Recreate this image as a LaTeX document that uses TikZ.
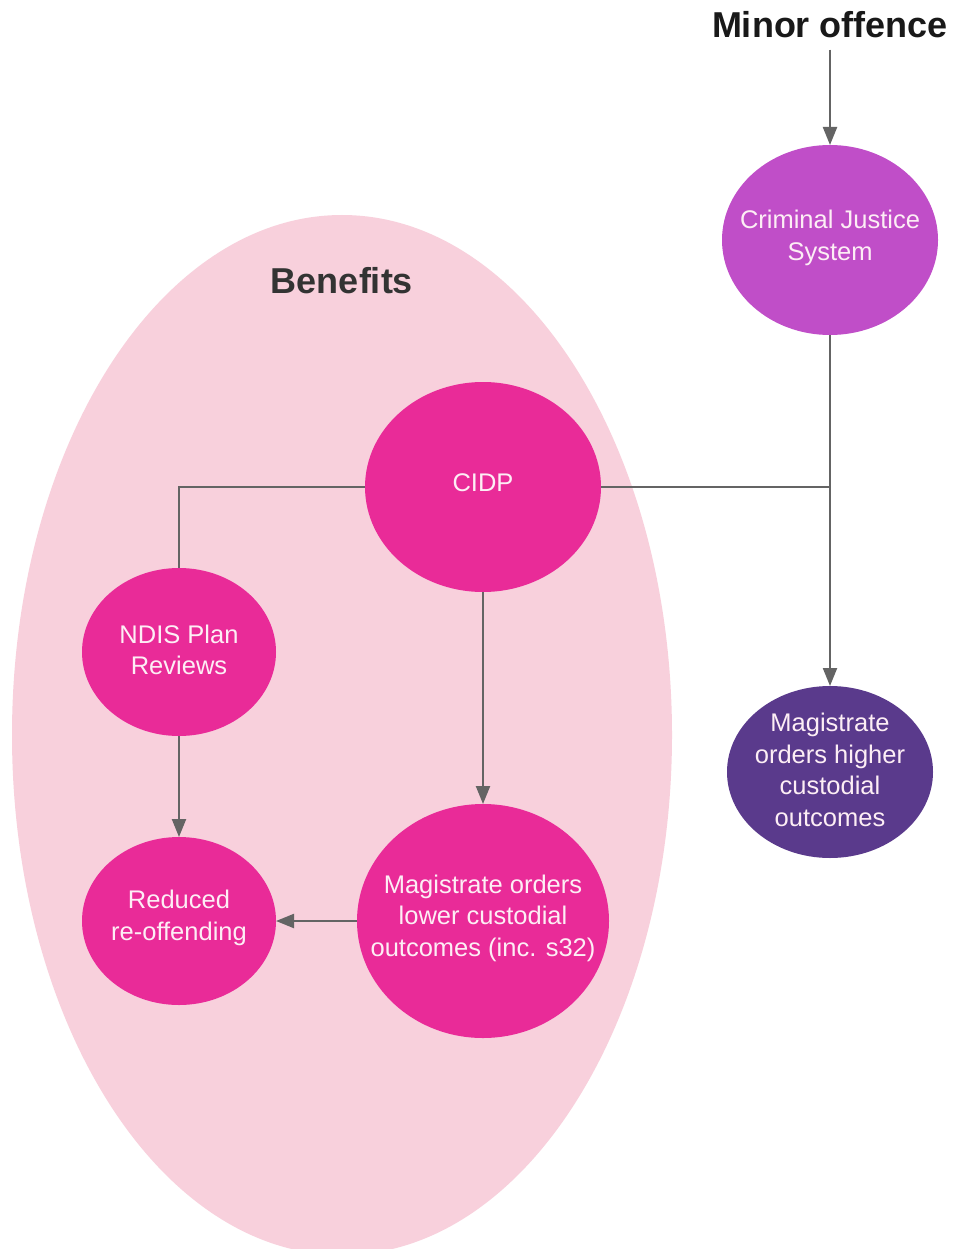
\documentclass[tikz,border=0pt]{standalone}
\usepackage{fontspec}
\setmainfont{Liberation Sans}
\usetikzlibrary{arrows.meta,shapes.geometric}
\definecolor{bgpink}{RGB}{248,208,220}
\definecolor{hotpink}{RGB}{233,43,152}
\definecolor{cjspurple}{RGB}{192,78,200}
\definecolor{darkpurple}{RGB}{90,58,140}
\definecolor{linegray}{RGB}{100,100,100}
\definecolor{txtwhite}{RGB}{253,238,245}
\tikzset{
  bubble/.style={ellipse, fill=#1, inner sep=0pt, outer sep=0pt},
  label text/.style={text=txtwhite, align=center, inner sep=0pt,
    font=\fontsize{25.5}{31.5}\selectfont},
  conn/.style={draw=linegray, line width=2.2pt},
  arr/.style={conn, -{Triangle[length=18pt,width=14pt]}},
  title/.style={font=\bfseries\fontsize{36}{40}\selectfont}
}
\begin{document}
\begin{tikzpicture}[x=1pt,y=-1pt]
\useasboundingbox (0,0) rectangle (956,1249);
\clip (0,0) rectangle (956,1249);
\fill[white] (0,0) rectangle (956,1249);
% big benefits ellipse
\fill[bgpink] (342,735) ellipse [x radius=330, y radius=520];
\node[title, text=black!90] (minor) at (830,25) {Minor offence};
\node[title, text=black!80] (benefits) at (342,281) {Benefits};
% shapes
\node[bubble=cjspurple, minimum width=216, minimum height=190] (cjs) at (830,240) {};
\node[bubble=darkpurple, minimum width=206, minimum height=172] (high) at (830,772) {};
\node[bubble=hotpink, minimum width=236, minimum height=210] (cidp) at (483,487) {};
\node[bubble=hotpink, minimum width=194, minimum height=168] (ndis) at (179,652) {};
\node[bubble=hotpink, minimum width=194, minimum height=168] (red) at (179,921) {};
\node[bubble=hotpink, minimum width=252, minimum height=234] (low) at (483,921) {};
% texts
\node[label text] (cjs-t) at (830,238) {Criminal Justice\\System};
\node[label text] (high-t) at (830,770) {Magistrate\\orders higher\\custodial\\outcomes};
\node[label text] (cidp-t) at (483,483) {CIDP};
\node[label text] (ndis-t) at (179,650) {NDIS Plan\\Reviews};
\node[label text] (red-t) at (179,918) {Reduced\\re-offending};
\node[label text] (low-t) at (483,918) {Magistrate orders\\lower custodial\\outcomes (inc. s32)};
% connectors
\coordinate (jn) at (cjs.south |- cidp.east);
\draw[arr] (minor.south) ++(0,8) -- (cjs.north);
\draw[arr] (cjs.south) -- (high.north);
\draw[conn] (cidp.east) -- (jn);
\draw[conn] (cidp.west) -| (ndis.north);
\draw[arr] (ndis.south) -- (red.north);
\draw[arr] (cidp.south) -- (low.north);
\draw[arr] (low.west) -- (red.east);
\end{tikzpicture}
\end{document}
